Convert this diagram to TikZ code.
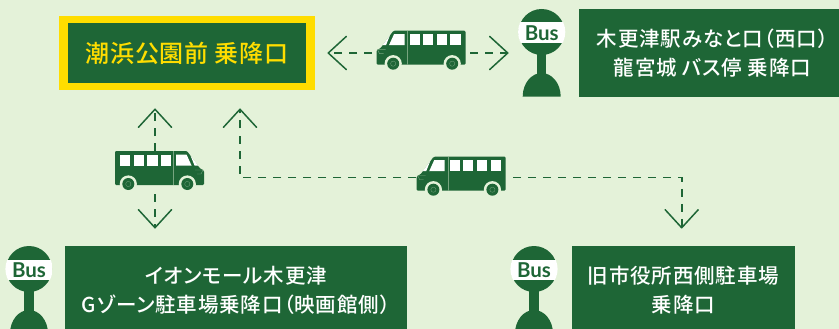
\documentclass[tikz,border=0pt]{standalone}
\usepackage{fontspec}
\usetikzlibrary{arrows.meta}
\setmainfont{Lato}
\newfontfamily\jpfont[RawFeature={+palt},LetterSpace=4]{Noto Sans CJK JP Medium}
\newfontfamily\jpmain[RawFeature={+palt},LetterSpace=3]{Noto Sans CJK JP Medium}
\newfontfamily\latofont[BoldFont={Lato Bold}]{Lato}
\definecolor{bgc}{HTML}{E4F2D9}
\definecolor{grn}{HTML}{1E6636}
\definecolor{ylw}{HTML}{FFDD00}
\tikzset{
  x=1pt,y=-1pt,
  stopbox/.style={fill=grn,text=white,inner sep=0pt,align=center,
    font={\jpfont\fontsize{20.5}{29}\selectfont}},
  dashline/.style={draw=grn,line width=1.8pt,dash pattern=on 8pt off 7pt},
  chev/.style={-{Straight Barb[length=18pt,width=33pt,line width=1.5pt,round]}},
  slot/.style={inner sep=0pt,minimum width=89pt,minimum height=39pt},
  bus/.pic={
    \fill[grn,rounded corners=1.2pt] (0,34) -- (0,0) -- (72,0) -- (85,17.5) -- (89,19.5) -- (89,34) -- cycle;
    \foreach \a/\b in {5/15.2,18.5/28.9,32.3/42.5,46/56}
      \fill[white] (\a,3.5) rectangle (\b,14.5);
    \fill[white] (61,3.5) -- (71.5,3.5) -- (76.5,14.5) -- (61,14.5) -- cycle;
    \fill[white] (75.5,4.5) -- (83,14.5) -- (79.5,14.5) -- cycle;
    \draw[bgc!45!grn,line width=.4pt] (58,0) -- (58,34);
    \draw[bgc!45!grn,line width=.4pt] (80,19) -- (88,19) -- (86,23) -- (82,23);
    \foreach \c in {13.3,72.3}{
      \fill[bgc] (\c,33) circle[radius=8.6];
      \fill[grn] (\c,33) circle[radius=6];
      \draw[bgc!45!grn,line width=.3pt] (\c,33) circle[radius=2.6];
    }
  },
  busstop/.pic={
    \fill[grn] (0,0) circle[radius=23];
    \begin{scope}
      \clip (0,0) circle[radius=23.6];
      \fill[white] (-24,-9.5) rectangle (24,11);
    \end{scope}
    \node[text=grn,inner sep=0pt,font={\latofont\bfseries\fontsize{20.5}{22}\selectfont}] at (0,1) {Bus};
    \fill[grn] (-4.6,20) rectangle (4.6,48);
    \fill[grn] (-19,64.7) .. controls (-19,51) and (-10,41) .. (0,41) .. controls (10,41) and (19,51) .. (19,64.7) -- cycle;
  }
}
\begin{document}
\begin{tikzpicture}
\useasboundingbox[fill=bgc] (0,0) rectangle (839,329);

% boxes
\node[fill=ylw,minimum width=256pt,minimum height=74pt,inner sep=0pt] (frame) at (187,53) {};
\node[fill=grn,text=ylw,inner sep=0pt,minimum width=237.5pt,minimum height=60pt,
  font={\jpmain\fontsize{24}{29}\selectfont}] (main) at (187,53) {潮浜公園前 乗降口};
\node[stopbox,minimum width=267pt,minimum height=87.5pt] (east) at (712.5,53.2) {木更津駅みなと口（西口）\\龍宮城 バス停 乗降口};
\node[stopbox,minimum width=342pt,minimum height=89pt] (aeon) at (236,290.5) {イオンモール木更津\\Gゾーン駐車場乗降口（映画館側）};
\node[stopbox,minimum width=223pt,minimum height=89pt] (city) at (683.5,290.5) {旧市役所西側駐車場\\乗降口};

% bus stops
\pic at (541.7,32) {busstop};
\pic at (29,269) {busstop};
\pic at (534,269) {busstop};

% buses (slots carry the connector anchors)
\node[slot] (busA) at (420.7,50.2) {};
\node[slot] (busB) at (159.5,170.5) {};
\node[slot] (busC) at (461.2,176.2) {};
\pic[xscale=-1] at (465.5,30.7) {bus};
\pic at (115,151) {bus};
\pic[xscale=-1] at (505.7,156.7) {bus};

% free ends
\coordinate (tipAL) at (327.5,53);
\coordinate (tipAR) at (508.5,53);
\coordinate (tipBU) at (155,108.5);
\coordinate (tipBD) at (155,228.5);
\coordinate (tipCU) at (240,108.5);
\coordinate (tipCD) at (681.7,228.5);
\coordinate (cornerL) at (240,177.5);
\coordinate (cornerR) at (681.7,177.5);
\coordinate (fromAL) at (372,53);
\coordinate (fromAR) at (470,53);
\coordinate (fromBU) at (155,151);
\coordinate (fromBD) at (155,194);
\coordinate (toCL) at (416,177.5);
\coordinate (fromCR) at (513,177.5);

% connectors
\draw[dashline,chev] (fromAL) -- (tipAL);
\draw[dashline,chev] (fromAR) -- (tipAR);
\draw[dashline,chev] (fromBU) -- (tipBU);
\draw[dashline,chev] (fromBD) -- (tipBD);
\draw[dashline,chev] (toCL) -- (cornerL) -- (tipCU);
\draw[dashline,chev] (fromCR) -- (cornerR) -- (tipCD);
\end{tikzpicture}
\end{document}
